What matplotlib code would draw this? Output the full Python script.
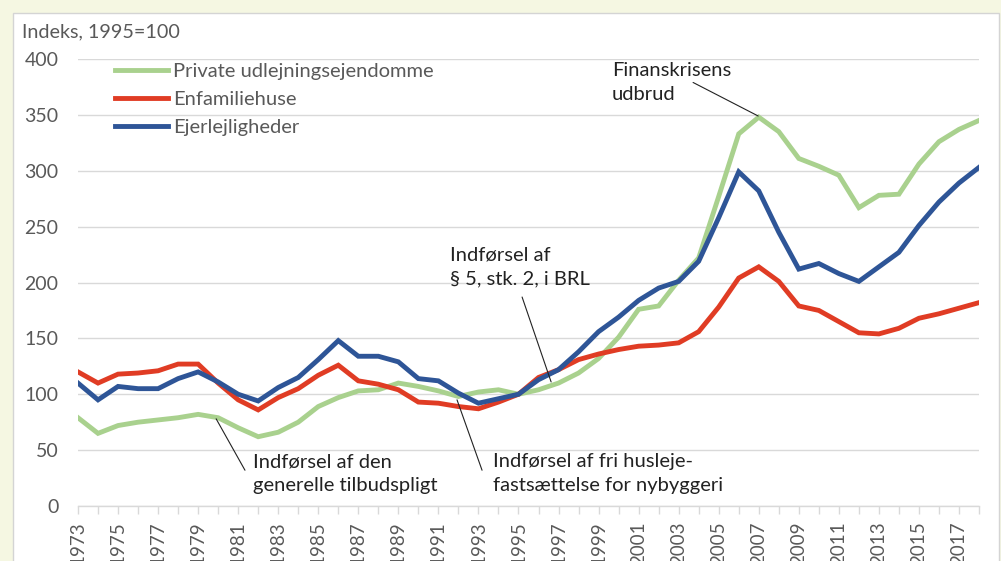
import matplotlib.pyplot as plt
from matplotlib.patches import Rectangle

plt.rcParams['font.family'] = ['Lato', 'DejaVu Sans']

# Data (index, 1995=100)
years = list(range(1973, 2019))
private_udlejning = [79, 65, 72, 75, 77, 79, 82, 79, 70, 62, 66, 75, 89, 97, 103, 104, 110,
                     107, 103, 98, 102, 104, 100, 104, 110, 119, 132, 151, 176, 179, 202,
                     222, 277, 333, 348, 335, 311, 304, 296, 267, 278, 279, 306, 326, 337, 345]
enfamiliehuse = [120, 110, 118, 119, 121, 127, 127, 110, 95, 86, 97, 105, 117, 126, 112, 109,
                 104, 93, 92, 89, 87, 93, 100, 115, 122, 131, 136, 140, 143, 144, 146,
                 156, 178, 204, 214, 201, 179, 175, 165, 155, 154, 159, 168, 172, 177, 182]
ejerlejligheder = [110, 95, 107, 105, 105, 114, 120, 111, 100, 94, 106, 115, 131, 148, 134,
                   134, 129, 114, 112, 101, 92, 96, 100, 113, 122, 138, 156, 169, 184, 195,
                   201, 219, 258, 299, 282, 245, 212, 217, 208, 201, 214, 227, 251, 272, 289, 303]
labels = ['Private udlejningsejendomme', 'Enfamiliehuse', 'Ejerlejligheder']
colors = ['#a9d18e', '#e03c24', '#2e5597']

# annotations: text, text position, leader line (start, end)
notes = [
    ('Finanskrisens\nudbrud', (1999.67, 397), (2003.72, 379), (2006.97, 349)),
    ('Indførsel af\n§ 5, stk. 2, i BRL', (1991.58, 232), (1995.18, 187), (1996.63, 111)),
    ('Indførsel af den\ngenerelle tilbudspligt', (1981.74, 47), (1979.9, 78), (1981.34, 32)),
    ('Indførsel af fri husleje-\nfastsættelse for nybyggeri', (1993.73, 47), (1991.93, 95),
     (1993.18, 32)),
]

fig = plt.figure(figsize=(10.01, 5.61), dpi=100)
fig.patch.set_facecolor('#f5f7e2')
fig.patches.append(Rectangle((13 / 1001, -0.1), (999 - 13) / 1001, 1.1 - 13 / 561,
                             transform=fig.transFigure, facecolor='white',
                             edgecolor='#d4d4d4', linewidth=1.0, zorder=-5))

ax = fig.add_axes([78 / 1001, 55 / 561, (979 - 78) / 1001, (506 - 59) / 561])
ax.set_facecolor('none')

for serie, lab, col in zip([private_udlejning, enfamiliehuse, ejerlejligheder], labels, colors):
    ax.plot(years, serie, color=col, linewidth=3.5, label=lab, solid_joinstyle='miter')

ax.set_xlim(1973, 2018)
ax.set_ylim(0, 400)
ax.set_yticks(range(0, 401, 50))
ax.set_xticks(years)
ax.set_xticklabels([str(y) if (y - 1973) % 2 == 0 else '' for y in years], rotation=90)
ax.grid(axis='y', color='#d9d9d9', linewidth=1.0)
ax.set_axisbelow(True)
for s in ['top', 'right', 'left']:
    ax.spines[s].set_visible(False)
ax.spines['bottom'].set_color('#d9d9d9')
ax.spines['bottom'].set_linewidth(1.0)
ax.tick_params(axis='y', length=0, pad=14, labelsize=14, labelcolor='#595959')
ax.tick_params(axis='x', length=6, color='#d9d9d9', width=1.0, pad=5, labelsize=13.5,
               labelcolor='#595959')

fig.text(22 / 1001, 1 - 32 / 561, 'Indeks, 1995=100', fontsize=14.2, color='#595959',
         ha='left', va='center')

leg = ax.legend(loc='upper left', bbox_to_anchor=(0.032, 1.01), frameon=False, fontsize=14.5,
                handlelength=2.65, handletextpad=0.22, labelspacing=0.55, borderaxespad=0)
for t in leg.get_texts():
    t.set_color('#595959')

for txt, pos, p0, p1 in notes:
    ax.text(pos[0], pos[1], txt, fontsize=14.5, color='#222222', ha='left', va='top',
            linespacing=1.5)
    ax.annotate('', xy=p1, xytext=p0,
                arrowprops=dict(arrowstyle='-', color='#222222', linewidth=0.8,
                                shrinkA=0, shrinkB=0))

fig.savefig('out.png', dpi=100, facecolor=fig.get_facecolor())
